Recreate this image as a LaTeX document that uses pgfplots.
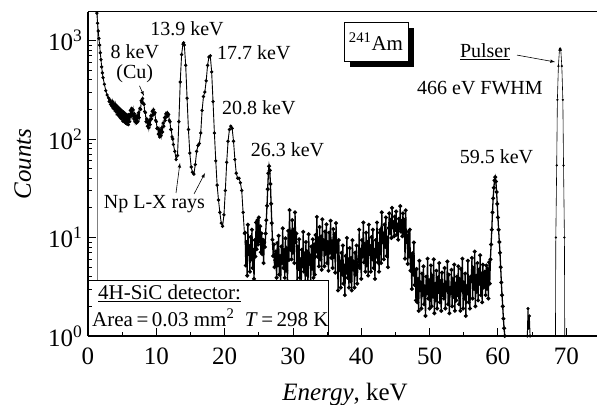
\documentclass[border=0pt]{standalone}
\usepackage{fontspec}
\setmainfont{Liberation Serif}
\usepackage{pgfplots}
\pgfplotsset{compat=1.18}
\usepackage{pgfplotstable}

\pgfplotstableread{
x y
1.3 1900
1.4 1500
1.5 1250
1.6 1050
1.7 900
1.8 750
1.9 640
2.0 540
2.1 470
2.2 420
2.4 360
2.6 310
2.8 280
3.0 262
3.1 240
3.2 250
3.3 225
3.4 238
3.5 215
3.6 240
3.7 205
3.8 228
3.9 200
4.0 225
4.1 190
4.2 218
4.3 178
4.4 210
4.5 172
4.6 205
4.7 165
4.8 198
4.9 160
5.0 192
5.1 152
5.2 188
5.3 150
5.4 182
5.5 145
5.6 178
5.7 142
5.8 175
5.9 140
6.0 178
6.1 150
6.2 195
6.3 170
6.4 205
6.5 175
6.6 198
6.7 160
6.8 180
6.9 150
7.0 170
7.1 145
7.2 172
7.3 150
7.4 185
7.5 165
7.6 205
7.7 200
7.8 245
7.9 235
8.0 258
8.1 230
8.2 225
8.3 190
8.4 185
8.5 150
8.6 160
8.7 135
8.8 150
8.9 130
9.0 155
9.1 140
9.2 172
9.3 160
9.4 192
9.5 175
9.6 198
9.7 180
9.8 185
9.9 155
10.0 150
10.1 128
10.2 130
10.3 112
10.4 125
10.5 105
10.6 122
10.7 108
10.8 130
10.9 118
11.0 145
11.1 135
11.2 165
11.3 155
11.4 180
11.5 168
11.6 185
11.7 172
11.8 178
11.9 155
12.0 150
12.1 125
12.2 125
12.3 105
12.4 100
12.5 88
12.7 75
12.9 62
13.1 68
13.3 150
13.5 380
13.7 720
13.9 920
14.0 950
14.1 900
14.3 560
14.5 260
14.7 125
14.9 72
15.1 52
15.3 46
15.5 44
15.7 55
15.9 75
16.1 86
16.3 90
16.5 115
16.7 195
16.9 270
17.1 300
17.3 390
17.5 560
17.7 680
17.9 700
18.1 480
18.3 240
18.5 115
18.7 60
18.9 34
19.1 24
19.3 18
19.5 14
19.7 13
19.9 17
20.1 30
20.3 58
20.5 95
20.7 125
20.9 135
21.1 128
21.3 95
21.5 62
21.7 45
21.9 40
22.1 40
22.3 36
22.5 30
22.7 18
22.9 11
}\specA

\pgfplotstableread{
x y
23.0 11.2
23.1 5.2
23.2 9.0
23.3 4.1
23.4 13.5
23.5 6.8
23.6 8.2
23.7 4.5
23.8 10.1
23.9 6.0
24.0 12.0
24.1 4.9
24.2 7.5
24.3 3.8
24.4 9.4
24.5 6.4
24.6 14.2
24.7 7.6
24.8 15.0
24.9 8.5
25.0 16.0
25.1 9.2
25.2 13.0
25.3 7.1
25.4 11.0
25.5 6.8
25.6 9.5
25.7 5.5
25.8 9.0
25.9 8.0
26.0 11.0
26.1 15.0
26.2 21.0
26.3 31.0
26.4 45.0
26.5 53.0
26.6 48.0
26.7 35.0
26.8 22.0
26.9 14.0
27.0 9.5
27.1 6.5
27.2 8.5
27.3 5.0
27.4 5.9
27.5 7.2
27.6 3.9
27.7 8.8
27.8 5.2
27.9 10.4
28.0 4.2
28.1 6.5
28.2 3.2
28.3 8.1
28.4 5.5
28.5 12.4
28.6 4.9
28.7 7.5
28.8 3.9
28.9 9.8
29.0 4.6
29.1 7.8
29.2 3.6
29.3 11.7
29.4 5.9
29.5 19.0
29.6 7.5
29.7 11.5
29.8 6.0
29.9 15.0
30.0 7.0
30.1 12.0
30.2 5.5
30.3 18.0
30.4 9.0
30.5 11.0
30.6 3.6
30.7 8.1
30.8 4.8
30.9 9.6
31.0 3.9
31.1 6.0
31.2 3.0
31.3 7.5
31.4 5.1
31.5 11.4
31.6 4.5
31.7 6.9
31.8 3.6
31.9 9.0
32.0 4.2
32.1 7.2
32.2 3.3
32.3 10.8
32.4 5.4
32.5 6.6
32.6 3.6
32.7 8.1
32.8 4.8
32.9 9.6
33.0 3.9
33.1 8.5
33.2 4.2
33.3 10.6
33.4 7.2
33.5 16.2
33.6 6.4
33.7 9.8
33.8 5.1
33.9 12.8
34.0 6.0
34.1 10.2
34.2 4.7
34.3 15.3
34.4 7.6
34.5 9.4
34.6 5.1
34.7 11.5
34.8 6.8
34.9 13.6
35.0 5.5
35.1 9.0
35.2 4.6
35.3 11.2
35.4 7.0
35.5 14.8
35.6 6.2
35.7 9.2
35.8 4.9
35.9 12.2
36.0 6.3
36.1 10.8
36.2 4.4
36.3 14.0
36.4 7.2
36.5 8.8
36.6 2.9
36.7 9.4
36.8 4.7
36.9 5.7
37.0 3.1
37.1 7.0
37.2 4.2
37.3 8.3
37.4 3.4
37.5 5.2
37.6 2.6
37.7 6.5
37.8 4.4
37.9 9.9
38.0 3.9
38.1 6.0
38.2 3.1
38.3 7.8
38.4 3.6
38.5 6.2
38.6 2.9
38.7 9.4
38.8 4.7
38.9 5.7
39.0 3.1
39.1 7.0
39.2 4.2
39.3 8.3
39.4 3.4
39.5 5.2
39.6 6.0
39.7 12.0
39.8 4.9
39.9 7.5
40.0 3.8
40.1 9.4
40.2 6.4
40.3 14.2
40.4 5.6
40.5 8.6
40.6 4.5
40.7 11.2
40.8 5.2
40.9 9.0
41.0 4.1
41.1 13.5
41.2 6.8
41.3 8.2
41.4 4.5
41.5 10.1
41.6 6.0
41.7 12.0
41.8 4.9
41.9 7.5
42.0 3.8
42.1 9.4
42.2 6.4
42.3 14.2
42.4 5.6
42.5 8.6
42.6 4.5
42.7 11.2
42.8 12.0
42.9 5.5
43.0 18.0
43.1 9.0
43.2 11.0
43.3 6.0
43.4 13.5
43.5 8.0
43.6 16.0
43.7 6.5
43.8 10.0
43.9 5.0
44.0 12.5
44.1 17.6
44.2 11.1
44.3 15.1
44.4 9.9
44.5 20.0
44.6 12.7
44.7 14.3
44.8 10.3
44.9 16.3
45.0 11.9
45.1 18.4
45.2 10.7
45.3 13.5
45.4 9.5
45.5 15.5
45.6 12.3
45.7 20.8
45.8 11.5
45.9 14.7
46.0 10.3
46.1 17.6
46.2 11.1
46.3 15.1
46.4 6.1
46.5 18.9
46.6 9.0
46.7 10.5
46.8 5.4
46.9 11.5
47.0 6.4
47.1 12.0
47.2 4.6
47.3 6.5
47.4 3.0
47.5 6.9
47.6 4.2
47.7 8.9
47.8 3.3
47.9 4.7
48.0 2.3
48.1 4.8
48.2 2.2
48.3 3.8
48.4 1.8
48.5 5.8
48.6 2.9
48.7 3.5
48.8 1.9
48.9 4.3
49.0 2.6
49.1 5.1
49.2 2.1
49.3 3.2
49.4 1.6
49.5 4.0
49.6 2.7
49.7 6.1
49.8 2.4
49.9 3.7
50.0 1.9
50.1 3.0
50.2 5.2
50.3 2.0
50.4 4.1
50.5 2.5
50.6 6.0
50.7 1.7
50.8 3.4
50.9 2.3
51.0 4.6
51.1 1.9
51.2 3.9
51.3 2.8
51.4 5.5
51.5 2.2
51.6 3.6
51.7 1.8
51.8 4.4
51.9 2.6
52.0 3.3
52.1 2.4
52.2 4.9
52.3 1.9
52.4 3.5
52.5 2.9
52.6 5.7
52.7 2.1
52.8 4.2
52.9 1.7
53.0 3.1
53.1 2.7
53.2 4.7
53.3 2.0
53.4 3.8
53.5 2.5
53.6 5.3
53.7 1.8
53.8 3.4
53.9 2.3
54.0 4.0
54.1 2.6
54.2 5.1
54.3 2.1
54.4 3.8
54.5 1.8
54.6 4.8
54.7 2.9
54.8 6.1
54.9 1.9
55.0 3.5
55.1 2.4
55.2 4.3
55.3 1.6
55.4 3.2
55.5 2.7
55.6 5.8
55.7 2.2
55.8 3.7
55.9 1.9
56.0 4.0
56.1 3.6
56.2 6.2
56.3 2.4
56.4 4.9
56.5 3.0
56.6 7.2
56.7 2.0
56.8 4.1
56.9 2.8
57.0 5.5
57.1 2.3
57.2 4.7
57.3 3.4
57.4 6.6
57.5 2.6
57.6 4.3
57.7 2.2
57.8 5.3
57.9 3.1
58.0 4.0
58.1 4.5
58.2 2.6
58.3 5.2
58.4 3.0
58.5 4.8
58.6 2.4
58.7 5.6
58.8 3.4
58.9 6.0
59.0 8.5
59.1 12
59.2 18
59.3 25
59.4 32
59.5 38
59.6 41
59.7 37
59.8 29
59.9 22
60.0 16
60.1 12
60.2 9
60.3 7
60.4 5
60.5 3.5
60.6 2.6
60.7 2.0
60.8 1.5
60.9 1.2
61.0 1.0
}\specB

\pgfplotstableread{
x y
64.3 1.0
64.4 1.9
64.5 1.2
64.6 1.6
64.7 1.0
}\specC

\pgfplotstableread{
x y
68.42 1
68.47 10
68.60 54
68.70 250
68.85 550
69.00 800
69.10 830
69.20 800
69.35 550
69.50 250
69.60 54
69.73 10
69.78 1
}\specD

\begin{document}
\begin{tikzpicture}
\begin{axis}[
  width=509pt, height=324pt, scale only axis,
  xmin=0, xmax=74.5, ymin=1, ymax=1950, ymode=log,
  axis line style={draw=none},
  axis on top,
  clip mode=individual,
  xtick={0,10,20,30,40,50,60,70},
  xticklabels={0,10,20,30,40,50,60,70},
  minor xtick={5,15,25,35,45,55,65},
  ytick={1,10,100,1000},
  yticklabels={10\textsuperscript{0},10\textsuperscript{1},10\textsuperscript{2},10\textsuperscript{3}},
  minor ytick={2,3,4,5,6,7,8,9,20,30,40,50,60,70,80,90,200,300,400,500,600,700,800,900},
  tick pos=left,
  tick align=inside,
  major tick length=8pt, minor tick length=4.5pt,
  every tick/.style={black, line width=0.9pt},
  tick label style={font=\fontsize{25}{27}\selectfont},
  xticklabel style={yshift=-8pt},
  yticklabel style={xshift=-2pt},
]
\coordinate (bl) at (rel axis cs:0,0);
\coordinate (tr) at (rel axis cs:1,1);
\draw[gray, line width=0.5pt] (axis cs:1.3,1) -- (axis cs:1.3,1950);
\addplot[black, line width=0.9pt, mark=*, mark size=1.2pt] table {\specA};
\addplot[black, line width=1.3pt, mark=*, mark size=1.3pt] table {\specB};
\addplot[black, line width=0.9pt, mark=*, mark size=1.1pt] table {\specC};
\addplot[black, line width=0.6pt, mark=*, mark size=0.8pt] table {\specD};

% annotations
\begin{scope}[every node/.style={font=\fontsize{20}{22}\selectfont, inner sep=0pt}]
\node at (rel axis cs:0.1945,0.9475) {13.9 keV};
\node[align=center] at (rel axis cs:0.092,0.840) {8 keV\\[-2pt](Cu)};
\node[anchor=west] at (rel axis cs:0.2534,0.873) {17.7 keV};
\node[anchor=west] at (rel axis cs:0.2633,0.7037) {20.8 keV};
\node at (rel axis cs:0.392,0.574) {26.3 keV};
\node at (rel axis cs:0.8026,0.5525) {59.5 keV};
\node at (rel axis cs:0.770,0.765) {466 eV FWHM};
\node at (rel axis cs:0.780,0.8765) {\underline{Pulser}};
\node at (rel axis cs:0.1306,0.4074) {Np L-X rays};
\end{scope}
\draw[-latex, line width=0.6pt] (rel axis cs:0.1012,0.772) -- (rel axis cs:0.110,0.741);
\draw[-latex, line width=0.6pt] (rel axis cs:0.8428,0.867) -- (rel axis cs:0.9175,0.8457);
\draw[-latex, line width=0.6pt] (rel axis cs:0.1729,0.4414) -- (rel axis cs:0.1807,0.534);
\draw[-latex, line width=0.6pt] (rel axis cs:0.2083,0.4383) -- (rel axis cs:0.2299,0.5031);

% 241Am box with shadow
\node[fill=black, minimum width=64pt, minimum height=39pt, inner sep=0pt, xshift=6pt, yshift=-6pt] at (rel axis cs:0.5658,0.909) {};
\node[draw, line width=0.8pt, fill=white, minimum width=64pt, minimum height=39pt, inner sep=0pt, font=\fontsize{21}{23}\selectfont] at (rel axis cs:0.5658,0.909) {\textsuperscript{241}Am};

% detector box
\draw[fill=white, line width=0.8pt] (rel axis cs:0,0) rectangle (rel axis cs:0.4715,0.1728);
\node[anchor=west, inner sep=0pt, font=\fontsize{21}{23}\selectfont] at (rel axis cs:0.0196,0.1327) {\underline{4H-SiC detector:}};
\node[anchor=west, inner sep=0pt, font=\fontsize{21}{23}\selectfont] at (rel axis cs:0.0079,0.0556) {Area\,=\,0.03 mm\textsuperscript{2}\ \ \textit{T}\,=\,298 K};

% axis lines
\draw[line width=2.2pt] (rel axis cs:0,0) -- (rel axis cs:0,1);
\draw[line width=2.2pt] (rel axis cs:0,0) -- (rel axis cs:1,0);
\draw[line width=1pt] (rel axis cs:0,1) -- (rel axis cs:1,1);

% axis labels
\node[anchor=base, font=\fontsize{25}{27}\selectfont] at ([yshift=-65pt]rel axis cs:0.505,0) {\textit{Energy}, keV};
\node[rotate=90, anchor=base, font=\fontsize{25}{27}\selectfont] at ([xshift=-57pt]rel axis cs:0,0.531) {\textit{Counts}};
\end{axis}
\pgfresetboundingbox
\path[use as bounding box] ([xshift=-88pt,yshift=-69pt]bl) rectangle ([yshift=12pt]tr);
\end{tikzpicture}
\end{document}
